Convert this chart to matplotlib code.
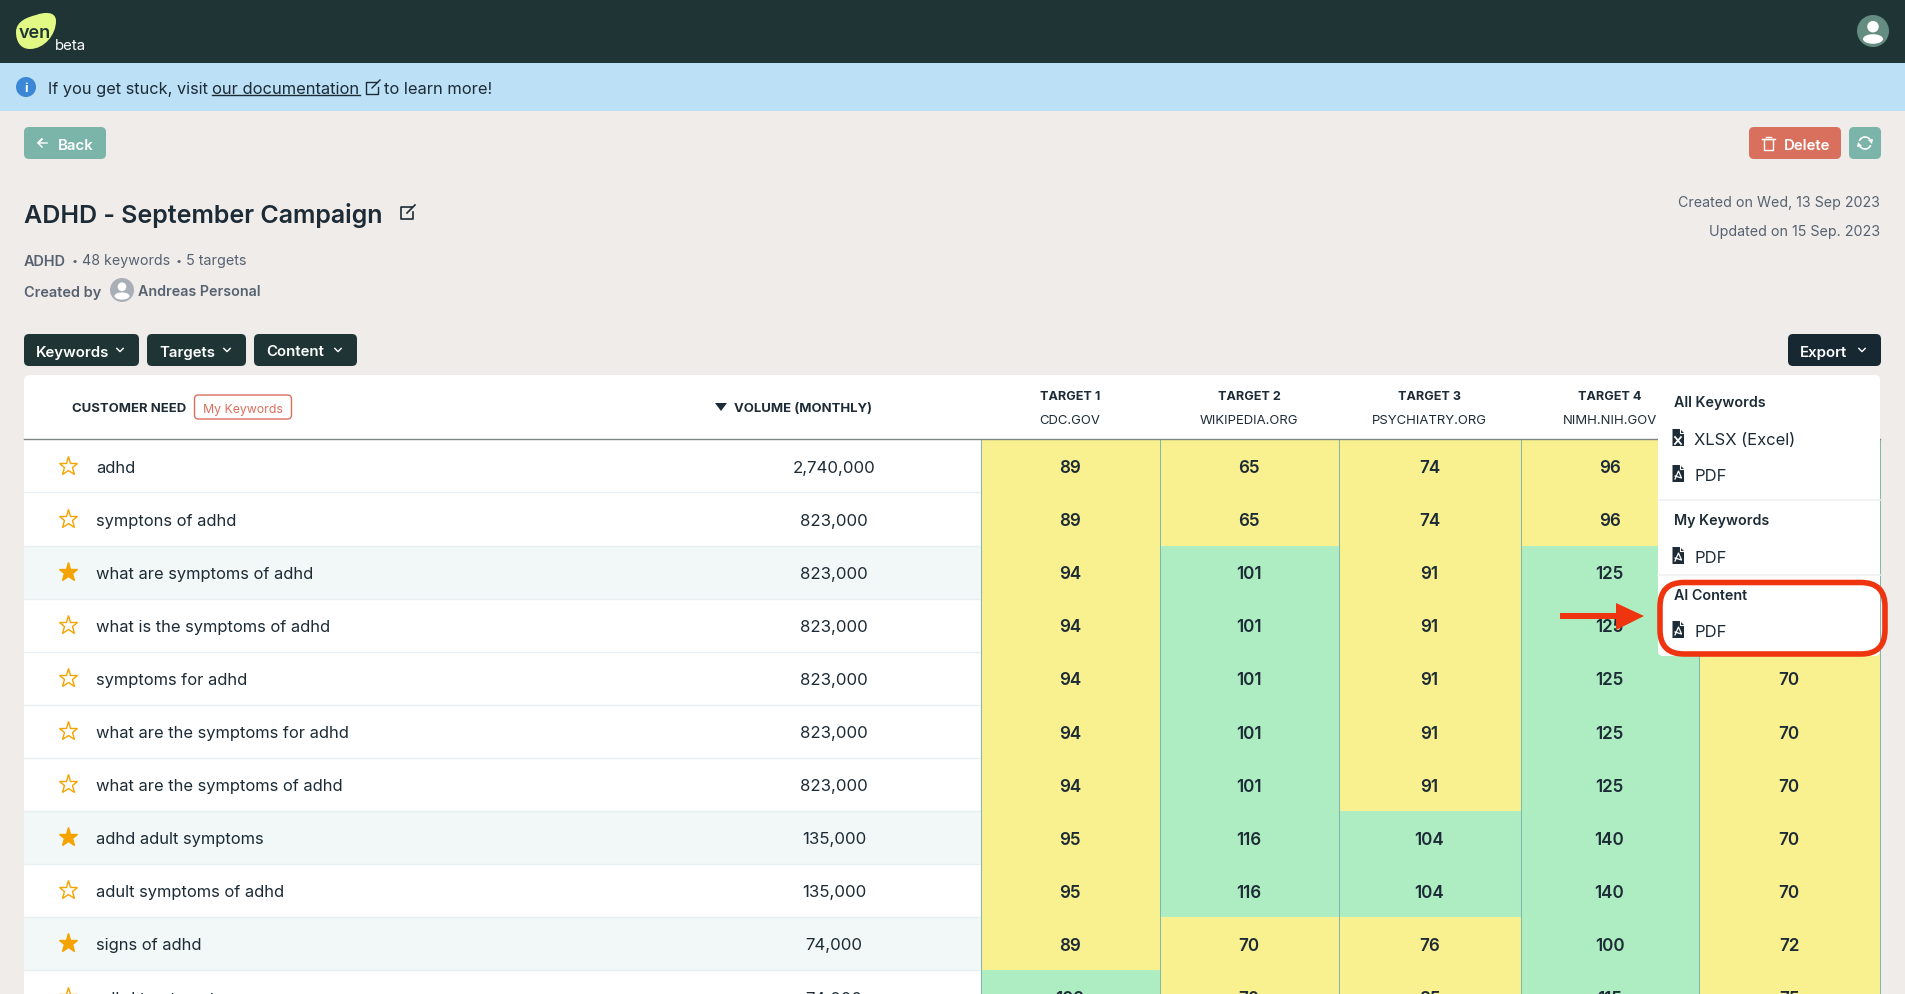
import matplotlib
matplotlib.use("Agg")
import matplotlib.pyplot as plt
from matplotlib.patches import FancyBboxPatch, Rectangle, Polygon, Circle, Ellipse, Arc, PathPatch
from matplotlib.path import Path

plt.rcParams['font.family'] = ['Inter', 'DejaVu Sans']

# ---------- data ----------
keywords = ["adhd", "symptons of adhd", "what are symptoms of adhd", "what is the symptoms of adhd",
            "symptoms for adhd", "what are the symptoms for adhd", "what are the symptoms of adhd",
            "adhd adult symptoms", "adult symptoms of adhd", "signs of adhd", "adhd treatment"]
volumes = ["2,740,000", "823,000", "823,000", "823,000", "823,000", "823,000", "823,000",
           "135,000", "135,000", "74,000", "74,000"]
starred = [False, False, True, False, False, False, False, True, False, True, False]
targets = ["TARGET 1", "TARGET 2", "TARGET 3", "TARGET 4", "TARGET 5"]
domains = ["CDC.GOV", "WIKIPEDIA.ORG", "PSYCHIATRY.ORG", "NIMH.NIH.GOV", ""]
target1 = [89, 89, 94, 94, 94, 94, 94, 95, 95, 89, 102]
target2 = [65, 65, 101, 101, 101, 101, 101, 116, 116, 70, 70]
target3 = [74, 74, 91, 91, 91, 91, 91, 104, 104, 76, 85]
target4 = [96, 96, 125, 125, 125, 125, 125, 140, 140, 100, 115]
target5 = [70, 70, 70, 70, 70, 70, 70, 70, 70, 72, 75]
scores = [target1, target2, target3, target4, target5]
threshold = 100

# ---------- palette ----------
BG = "#f0ecea"; HEAD = "#1f3535"; BLUE = "#bce0f6"; TEAL = "#7bb5a9"; RED = "#d9705d"
DARK = "#1c2b36"; GREY = "#566270"; YEL = "#f9f08f"; GRN = "#aeecc2"; TINT = "#f2f7f7"
STAR = "#f5a300"; ARROW = "#ef3410"

fig = plt.figure(figsize=(19.05, 9.95), dpi=100, facecolor=BG)
ax = fig.add_axes([0, 0, 1, 1])
ax.set_xlim(0, 1905); ax.set_ylim(995, 0); ax.axis("off")


def T(x, y, s, px=16, c=DARK, w="normal", ha="left", z=5, **k):
    return ax.text(x, y, s, fontsize=px * 0.72, color=c, fontweight=w, ha=ha, va="center_baseline", zorder=z, **k)


def box(x0, y0, x1, y1, fc, ec="none", r=5, lw=1, z=2):
    ax.add_patch(FancyBboxPatch((x0 + r, y0 + r), x1 - x0 - 2 * r, y1 - y0 - 2 * r,
                                boxstyle=f"round,pad={r},rounding_size={r}", fc=fc, ec=ec, lw=lw, zorder=z))


def rect(x0, y0, x1, y1, fc, z=1):
    ax.add_patch(Rectangle((x0, y0), x1 - x0, y1 - y0, fc=fc, ec="none", zorder=z))


def chevron(x, y, c="white", s=3.2):
    ax.plot([x - s, x, x + s], [y - s / 2, y + s / 2, y - s / 2], color=c, lw=1, zorder=6)


def file_icon(x, y, kind="pdf"):
    ax.add_patch(Polygon([(x - 5.5, y - 9), (x + 2, y - 9), (x + 6, y - 5), (x + 6, y + 8), (x - 5.5, y + 8)],
                         fc=DARK, ec="none", zorder=11))
    ax.plot([x + 2, x + 2, x + 6], [y - 9, y - 5, y - 5], color="white", lw=0.8, zorder=12)
    if kind == "pdf":
        ax.plot([x - 3, x + 0.5, x + 3.5, x - 3], [y + 5, y - 3, y + 4, y + 2], color="white", lw=0.9, zorder=12)
    else:
        ax.plot([x - 3, x + 3], [y - 1, y + 6], color="white", lw=1.3, zorder=12)
        ax.plot([x - 3, x + 3], [y + 6, y - 1], color="white", lw=1.3, zorder=12)


def person(cx, cy, r, bg, fg):
    ax.add_patch(Circle((cx, cy), r, fc=bg, ec="none", zorder=3))
    ax.add_patch(Circle((cx, cy - r * 0.27), r * 0.36, fc=fg, ec="none", zorder=4))
    ax.add_patch(Ellipse((cx, cy + r * 0.5), r * 1.25, r * 0.6, fc=fg, ec="none", zorder=4))


def edit_icon(x, y, c, lw=1.1):
    ax.plot([x + 5, x - 6, x - 6, x + 6, x + 6], [y - 6, y - 6, y + 6, y + 6, y - 1], color=c, lw=lw, zorder=5)
    ax.plot([x, x + 8], [y, y - 8], color=c, lw=lw, zorder=6)


# ---------- top bars ----------
rect(0, 0, 1905, 64, HEAD)
rect(0, 64, 1905, 112, BLUE)
blob = Path([(16, 33), (16, 22), (28, 18), (36, 16), (44, 13), (56, 12), (56, 22), (56, 36), (44, 50), (30, 50),
             (20, 50), (16, 42), (16, 33), (16, 33)],
            [Path.MOVETO] + [Path.CURVE4] * 12 + [Path.CLOSEPOLY])
ax.add_patch(PathPatch(blob, fc="#e2fa85", ec="none", zorder=3))
T(35, 31.5, "ven", 18, HEAD, "semibold", ha="center", z=5)
T(55, 44, "beta", 15, "white")
person(1873, 32, 16, "#658c80", "white")

# info banner
ax.add_patch(Circle((26, 88), 10, fc="#3a87d6", ec="none", zorder=3))
T(26, 88, "i", 13, "white", "bold", ha="center")
T(48, 88, "If you get stuck, visit", 16.3, DARK)
T(212, 88, "our documentation", 16.5, DARK)
ax.plot([212, 360], [95.5, 95.5], color=DARK, lw=1, zorder=5)
edit_icon(372, 89, DARK, 1)
T(384, 88, "to learn more!", 16.5, DARK)

# buttons
box(24, 128, 106, 160, TEAL)
ax.plot([47, 38, 42, 38, 42], [144, 144, 140, 144, 148], color="white", lw=1, zorder=5)
T(58, 144, "Back", 15, "white", "semibold")
box(1749, 128, 1841, 160, RED)
ax.add_patch(Rectangle((1764, 140), 9, 10.5, fc="none", ec="white", lw=1, zorder=5))
ax.plot([1762, 1775], [140, 140], color="white", lw=1, zorder=5)
ax.plot([1766, 1771], [137.5, 137.5], color="white", lw=1, zorder=5)
T(1784, 144, "Delete", 15, "white", "semibold")
box(1849, 128, 1881, 160, TEAL)
ax.add_patch(Arc((1865, 144), 12, 12, theta1=200, theta2=330, color="white", lw=1.2, zorder=5))
ax.add_patch(Arc((1865, 144), 12, 12, theta1=20, theta2=150, color="white", lw=1.2, zorder=5))
ax.add_patch(Polygon([(1868, 141), (1872, 145), (1873, 140)], fc="white", ec="none", zorder=5))
ax.add_patch(Polygon([(1862, 147), (1858, 143), (1857, 148)], fc="white", ec="none", zorder=5))

# title block
T(24, 213, "ADHD - September Campaign", 25, DARK, "semibold")
edit_icon(407, 214, DARK, 1.2)
T(24, 260, "ADHD", 14.5, GREY, "semibold")
T(72, 260, "•", 11, GREY)
T(82, 260, "48 keywords", 14.2, GREY)
T(176, 260, "•", 11, GREY)
T(186, 260, "5 targets", 14.4, GREY)
T(24, 291, "Created by", 14.5, GREY, "semibold")
person(122, 291, 12, "#a9afb6", "white")
T(138, 291, "Andreas Personal", 14.3, GREY, "semibold")
T(1880, 202, "Created on Wed, 13 Sep 2023", 14.2, GREY, ha="right")
T(1880, 230.5, "Updated on 15 Sep. 2023", 14.3, GREY, ha="right")

# toolbar
for x0, x1, lab in [(24, 139, "Keywords"), (147, 246, "Targets"), (254, 357, "Content")]:
    box(x0, 335, x1, 367, HEAD)
    T(x0 + 12, 351, lab, 15, "white", "semibold")
    chevron(x1 - 19, 351)
box(1788, 335, 1881, 367, "#182833")
T(1800, 351, "Export", 15, "white", "semibold")
chevron(1862, 351)

# ---------- table ----------
TOP, HDR, ROW, L, R = 376, 440.3, 53.1, 24, 1880
col_edges = [980.5, 1160, 1339, 1521, 1699, 1880]
box(L, TOP, R, 1010, "white", r=6, z=1)
ax.plot([L, R], [HDR, HDR], color="#7f8587", lw=1, zorder=4)
T(72, 408, "CUSTOMER NEED", 13.1, DARK, "bold")
box(194.5, 396, 291.5, 420, "white", ec=RED, r=4, lw=1)
T(243, 408, "My Keywords", 12.3, RED, ha="center")
ax.add_patch(Polygon([(715, 404), (727, 404), (721, 412)], fc=DARK, ec="none", zorder=5))
T(734, 408, "VOLUME (MONTHLY)", 13.1, DARK, "bold")
for j, (t, d) in enumerate(zip(targets, domains)):
    cx = (col_edges[j] + col_edges[j + 1]) / 2 - 0.5
    if d:
        T(cx, 395.5, t, 12.6, DARK, "bold", ha="center")
        T(cx, 419.5, d, 13.1, DARK, ha="center")

for i, kw in enumerate(keywords):
    y0 = HDR + i * ROW
    y1 = y0 + ROW
    cy = (y0 + y1) / 2 - 0.3
    if starred[i]:
        rect(L, y0, col_edges[0], y1, TINT, z=2)
    ax.plot([L, col_edges[0]], [y1, y1], color="#e9eef0", lw=1, zorder=3)
    ax.plot([68], [cy], marker="*", ms=14, mfc=STAR if starred[i] else "none", mec=STAR, mew=1, zorder=5, ls="none")
    T(96, cy, kw, 16.5, DARK)
    T(834, cy, volumes[i], 16.8, DARK, ha="center")
    for j in range(5):
        v = scores[j][i]
        rect(col_edges[j], y0, col_edges[j + 1], y1 + 0.3, GRN if v >= threshold else YEL, z=2)
        T((col_edges[j] + col_edges[j + 1]) / 2 - 0.5, cy, str(v), 17, DARK, "semibold", ha="center")
for x in col_edges:
    ax.plot([x, x], [HDR, 995], color="#7fb5ad", lw=0.7, zorder=3)

# ---------- dropdown ----------
box(1658, 376, 1880, 657, "white", r=5, z=8)
for y in (501, 575.7):
    ax.plot([1658, 1880], [y, y], color="#eef0f1", lw=1.2, zorder=9)
for y, s in [(402, "All Keywords"), (520, "My Keywords"), (594, "AI Content")]:
    T(1674.5, y, s, 14.3, DARK, "semibold", z=10)
for y, s, k in [(439, "XLSX (Excel)", "x"), (475, "PDF", "pdf"), (557, "PDF", "pdf"), (631, "PDF", "pdf")]:
    file_icon(1678, y, k)
    T(1694, y, s, 16.6, DARK, z=10)

# ---------- annotation ----------
ax.add_patch(FancyBboxPatch((1682, 605.5), 181, 27.5, boxstyle="round,pad=22,rounding_size=24",
                            fc="none", ec=ARROW, lw=4, zorder=13))
ax.add_patch(Rectangle((1560, 614), 60, 6, fc=ARROW, ec="none", zorder=13))
ax.add_patch(Polygon([(1616, 604), (1644, 617), (1616, 631)], fc=ARROW, ec="none", zorder=13))

fig.savefig("out.png", dpi=100, facecolor=BG)
